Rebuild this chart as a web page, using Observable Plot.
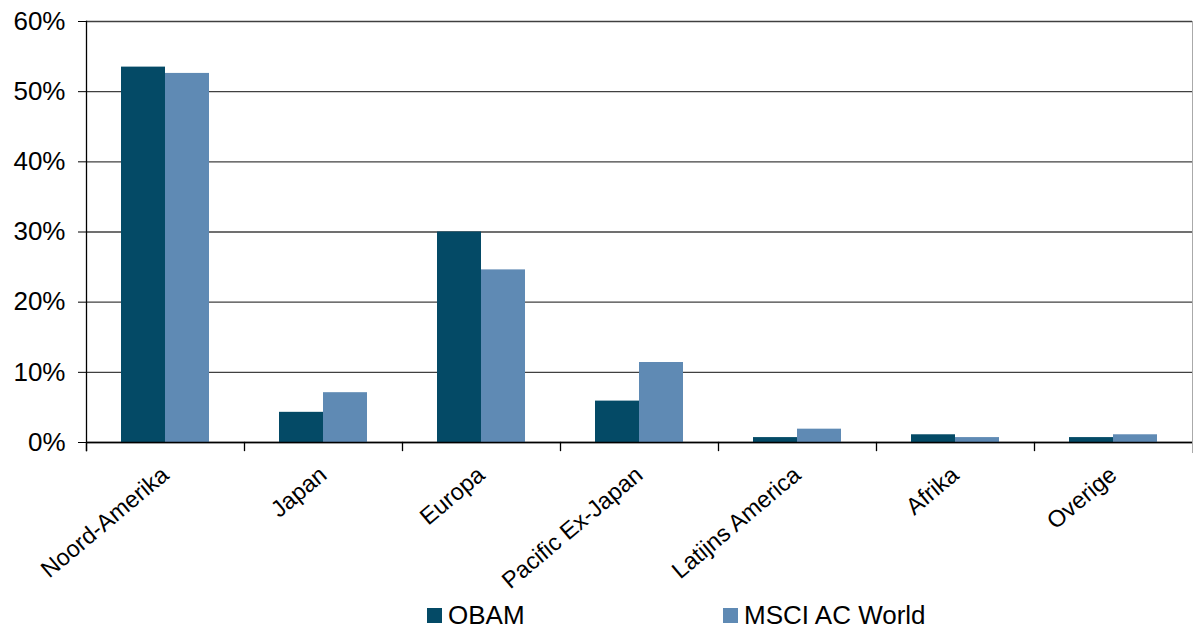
<!DOCTYPE html>
<html>
<head>
<meta charset="utf-8">
<script src="https://cdn.jsdelivr.net/npm/d3@7"></script>
<script src="https://cdn.jsdelivr.net/npm/@observablehq/plot@0.6"></script>
<style>
  html, body { margin: 0; padding: 0; background: #fff; }
  body { position: relative; width: 1195px; height: 631px; overflow: hidden; font-family: "Liberation Sans", Arial, sans-serif; }
  #legend { position: absolute; left: 0; top: 600px; width: 1195px; height: 30px; font-size: 26px; color: #000; }
  .item { position: absolute; top: 0; display: flex; align-items: center; line-height: 30px; }
  .sw { width: 15px; height: 15px; margin-right: 6px; }
</style>
</head>
<body>
<div id="chart"></div>
<div id="legend"></div>
<script>
const regions = ["Noord-Amerika", "Japan", "Europa", "Pacific Ex-Japan", "Latijns America", "Afrika", "Overige"];
const seriesNames = ["OBAM", "MSCI AC World"];
const obam = [0.535, 0.043, 0.300, 0.059, 0.007, 0.011, 0.007];
const msci = [0.526, 0.071, 0.246, 0.114, 0.019, 0.007, 0.011];
const colors = ["#044a66", "#5f8ab4"];
const yTicks = [0, 0.1, 0.2, 0.3, 0.4, 0.5, 0.6];

const data = [];
regions.forEach((r, i) => {
  data.push({region: r, series: seriesNames[0], value: obam[i]});
  data.push({region: r, series: seriesNames[1], value: msci[i]});
});

const chart = Plot.plot({
  width: 1195,
  height: 631,
  marginLeft: 84,
  marginRight: 1,
  marginTop: 21,
  marginBottom: 189,
  style: {fontFamily: "'Liberation Sans', Arial, sans-serif", color: "#000", background: "#fff", overflow: "visible"},
  fx: {domain: regions, padding: 0, label: null},
  x: {domain: seriesNames, paddingInner: 0, paddingOuter: 0.763, axis: null},
  y: {domain: [0, 0.6], label: null},
  color: {domain: seriesNames, range: colors},
  marks: [
    Plot.gridY(yTicks, {stroke: "#404040", strokeOpacity: 1, strokeWidth: 1.4}),
    Plot.barY(data, {fx: "region", x: "series", y: "value", fill: "series"}),
    Plot.ruleY([0], {stroke: "#000", strokeWidth: 1.4}),
    Plot.frame({anchor: "left", insetTop: 421, insetBottom: -8, stroke: "#000", strokeWidth: 1.3}),
    Plot.frame({anchor: "left", facet: "super", insetBottom: -8, stroke: "#000", strokeWidth: 1.3}),
    Plot.frame({anchor: "right", facet: "super", insetBottom: -10, stroke: "#aaa"}),
    Plot.axisY(yTicks, {tickSize: 8, tickPadding: 13, tickFormat: d3.format(".0%"), fontSize: 26, label: null}),
    Plot.axisFx({anchor: "bottom", tickRotate: -40, tickSize: 0, tickPadding: 29, fontSize: 23.5, label: null})
  ]
});
document.getElementById("chart").appendChild(chart);

const legend = document.getElementById("legend");
const legendLeft = [427, 723];
seriesNames.forEach((s, i) => {
  const item = document.createElement("div");
  item.className = "item";
  item.style.left = legendLeft[i] + "px";
  const sw = document.createElement("span");
  sw.className = "sw";
  sw.style.background = colors[i];
  const t = document.createElement("span");
  t.textContent = s;
  item.appendChild(sw);
  item.appendChild(t);
  legend.appendChild(item);
});
</script>
</body>
</html>
